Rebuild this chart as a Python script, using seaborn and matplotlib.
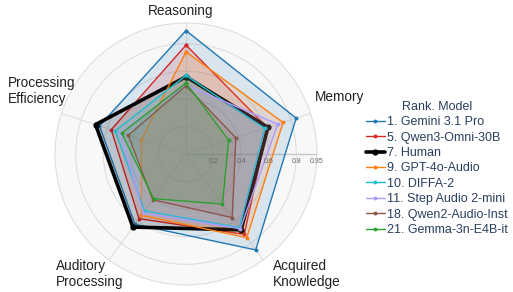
import numpy as np
import pandas as pd
import matplotlib
matplotlib.use("Agg")
import matplotlib.pyplot as plt
import matplotlib.transforms as mtransforms
import seaborn as sns

categories = ["Reasoning", "Memory", "Acquired Knowledge", "Auditory Processing", "Processing Efficiency"]
cat_labels = ["Reasoning", "Memory", "Acquired\nKnowledge", "Auditory\nProcessing", "Processing\nEfficiency"]
models = ["1. Gemini 3.1 Pro", "5. Qwen3-Omni-30B", "7. Human", "9. GPT-4o-Audio",
          "10. DIFFA-2", "11. Step Audio 2-mini", "18. Qwen2-Audio-Inst", "21. Gemma-3n-E4B-it"]
gemini = [0.895, 0.84, 0.86, 0.63, 0.66]
qwen3 = [0.79, 0.62, 0.72, 0.58, 0.57]
human = [0.56, 0.625, 0.68, 0.655, 0.69]
gpt4o = [0.74, 0.74, 0.75, 0.55, 0.34]
diffa = [0.57, 0.60, 0.66, 0.51, 0.54]
step = [0.50, 0.70, 0.67, 0.53, 0.50]
qwen2 = [0.495, 0.38, 0.57, 0.41, 0.44]
gemma = [0.515, 0.325, 0.45, 0.40, 0.49]
values = [gemini, qwen3, human, gpt4o, diffa, step, qwen2, gemma]
colors = ["#1f77b4", "#d62728", "#000000", "#ff7f0e", "#17becf", "#ab9cff", "#8c564b", "#2ca02c"]
rticks = [0.2, 0.4, 0.6, 0.8, 0.95]
rtick_labels = ["0.2", "0.4", "0.6", "0.8", "0.95"]

sns.set_style("white")
plt.rcParams["font.family"] = ["Liberation Sans", "DejaVu Sans"]

fig = plt.figure(figsize=(5.13, 2.92), dpi=100)
R = 131
cx, cy = 186, 154
ax = fig.add_axes([(cx - R) / 513, (292 - cy - R) / 292, 2 * R / 513, 2 * R / 292], projection="polar")
ax.set_theta_offset(np.pi / 2)
ax.set_theta_direction(-1)
ax.set_facecolor("#f8f8f8")

n = len(categories)
thetas = np.linspace(0, 2 * np.pi, n, endpoint=False)

rows = []
for m, vals in zip(models, values):
    for i in range(n + 1):
        rows.append({"model": m, "theta": thetas[i % n], "r": vals[i % n], "order": i})
df = pd.DataFrame(rows)

for k, (m, c) in enumerate(zip(models, colors)):
    sub = df[df["model"] == m]
    ax.fill(sub["theta"], sub["r"], color=c, alpha=0.14, lw=0, zorder=2 + k)
    is_h = m == "7. Human"
    sns.lineplot(data=sub, x="theta", y="r", sort=False, estimator=None, ax=ax,
                 color=c, lw=2.6 if is_h else 1.0, marker="o",
                 markersize=4.5 if is_h else 2.8, markeredgewidth=0,
                 label=m, zorder=3 + k)

ax.set_ylim(0, 0.95)
ax.set_xticks(thetas)
ax.set_xticklabels([])
ax.set_yticks(rticks[:-1])
ax.set_yticklabels([])
ax.set_xlabel("")
ax.set_ylabel("")
ax.grid(True, color="#dedede", lw=0.8)
ax.spines["polar"].set_color("#dedede")
ax.spines["polar"].set_linewidth(0.8)
ax.axvline(np.pi / 2, color="#c8c8c8", lw=1.0, zorder=1)

east = np.pi / 2
off = mtransforms.offset_copy(ax.transData, fig=fig, x=0, y=-3, units="points")
for v, t in zip(rticks, rtick_labels):
    ax.text(east, v, t, transform=off, ha="center", va="top", fontsize=5, color="#666666", zorder=20)

lab_kw = dict(fontsize=9.8, color="#222222", linespacing=1.1)
fig.text(181 / 513, 1 - 11 / 292, cat_labels[0], ha="center", va="center", **lab_kw)
fig.text(315 / 513, 1 - 97 / 292, cat_labels[1], ha="left", va="center", **lab_kw)
fig.text(273 / 513, 1 - 274 / 292, cat_labels[2], ha="left", va="center", **lab_kw)
fig.text(56 / 513, 1 - 274 / 292, cat_labels[3], ha="left", va="center", **lab_kw)
fig.text(8 / 513, 1 - 91 / 292, cat_labels[4], ha="left", va="center", **lab_kw)

h, l = ax.get_legend_handles_labels()
leg = ax.legend(h, l, title="Rank. Model", loc="upper left",
                bbox_to_anchor=(366 / 513, 1 - 101 / 292), bbox_transform=fig.transFigure,
                frameon=False, fontsize=9, title_fontsize=9, handlelength=1.5,
                handletextpad=0.15, labelspacing=0.27, borderaxespad=0, borderpad=0)
for t in leg.get_texts():
    t.set_color("#2a3f5f")
leg.get_title().set_color("#2a3f5f")

fig.savefig("out.png", dpi=100)
